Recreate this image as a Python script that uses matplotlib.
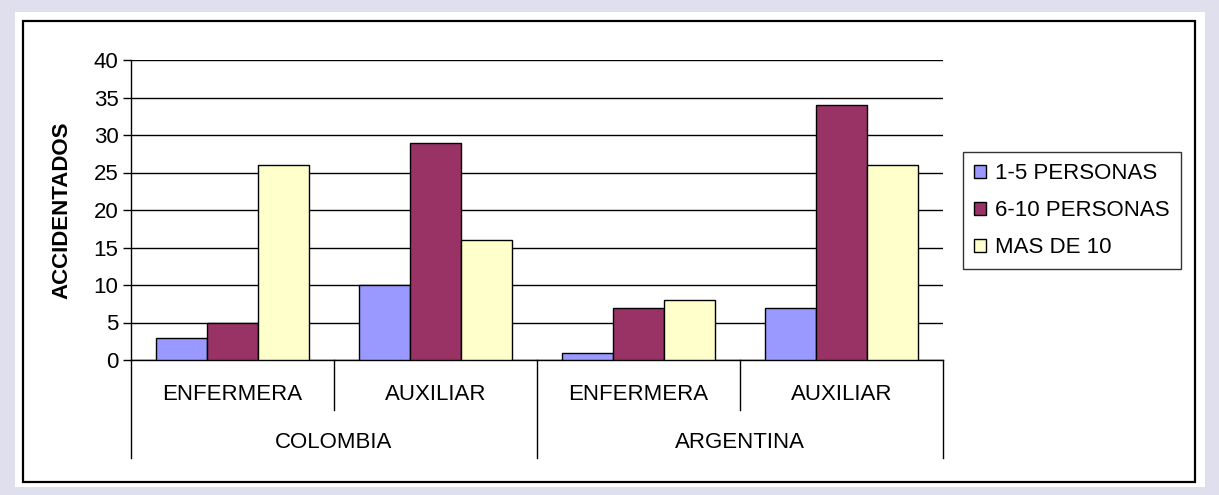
import matplotlib.pyplot as plt
from matplotlib.patches import Rectangle

plt.rcParams['font.family'] = ['Liberation Sans', 'DejaVu Sans']

# data
paises = ['COLOMBIA', 'ARGENTINA']
cargos = ['ENFERMERA', 'AUXILIAR', 'ENFERMERA', 'AUXILIAR']
series = ['1-5 PERSONAS', '6-10 PERSONAS', 'MAS DE 10']
val_1_5 = [3, 10, 1, 7]
val_6_10 = [5, 29, 7, 34]
val_mas10 = [26, 16, 8, 26]
colores = ['#9999ff', '#993366', '#ffffcc']

FS = 16
W, H = 1219, 495
fig = plt.figure(figsize=(W / 100, H / 100), dpi=100)
fig.patch.set_facecolor('#dfdfee')

# white panel with black frame
fig.patches.append(Rectangle((15 / W, 1 - 487 / H), 1190 / W, 475 / H,
                             transform=fig.transFigure, facecolor='white',
                             edgecolor='none', zorder=-2))
fig.patches.append(Rectangle((23 / W, 1 - 482 / H), 1172 / W, 461 / H,
                             transform=fig.transFigure, facecolor='white',
                             edgecolor='black', linewidth=1.6, zorder=-1))

ax = fig.add_axes([131 / W, 1 - 360 / H, (943 - 131) / W, 300 / H])
ax.set_facecolor('none')
ax.set_zorder(1)

bw = 0.25
x = [i + 0.5 for i in range(len(cargos))]
for k, vals in enumerate([val_1_5, val_6_10, val_mas10]):
    pos = [xi + (k - 1) * bw for xi in x]
    ax.bar(pos, vals, width=bw, color=colores[k], edgecolor='black',
           linewidth=1, label=series[k], zorder=3)

ax.set_xlim(0, 4)
ax.set_ylim(0, 40)
ax.set_yticks(range(0, 41, 5))
ax.yaxis.grid(True, color='black', linewidth=1)
ax.set_axisbelow(True)
ax.tick_params(axis='y', length=6, width=1, labelsize=FS, pad=3)
ax.set_xticks([])
for s in ['top', 'right']:
    ax.spines[s].set_visible(False)
ax.spines['left'].set_linewidth(1)
ax.spines['bottom'].set_linewidth(1)

# hierarchical category axis
tr = ax.get_xaxis_transform()
for b in [0, 2, 4]:
    ax.plot([b, b], [0, -98 / 300], color='black', lw=1, transform=tr, clip_on=False)
for b in [1, 3]:
    ax.plot([b, b], [0, -50 / 300], color='black', lw=1, transform=tr, clip_on=False)
for xi, c in zip(x, cargos):
    ax.text(xi, -35 / 300, c, transform=tr, ha='center', va='center', fontsize=FS)
for i, p in enumerate(paises):
    ax.text(2 * i + 1, -82 / 300, p, transform=tr, ha='center', va='center', fontsize=FS)

fig.text(62 / W, 1 - 210 / H, 'ACCIDENTADOS', rotation=90, ha='center', va='center',
         fontsize=FS, fontweight='bold')

h, l = ax.get_legend_handles_labels()
leg = fig.legend(h, l, loc='upper left', bbox_to_anchor=(963 / W, 1 - 152 / H),
                 fontsize=FS, frameon=True, fancybox=False, edgecolor='black',
                 borderaxespad=0, handlelength=0.55, handleheight=0.55,
                 handletextpad=0.4, labelspacing=0.72, borderpad=0.5)
leg.get_frame().set_linewidth(1)

fig.savefig('out.png', dpi=100, facecolor=fig.get_facecolor())
